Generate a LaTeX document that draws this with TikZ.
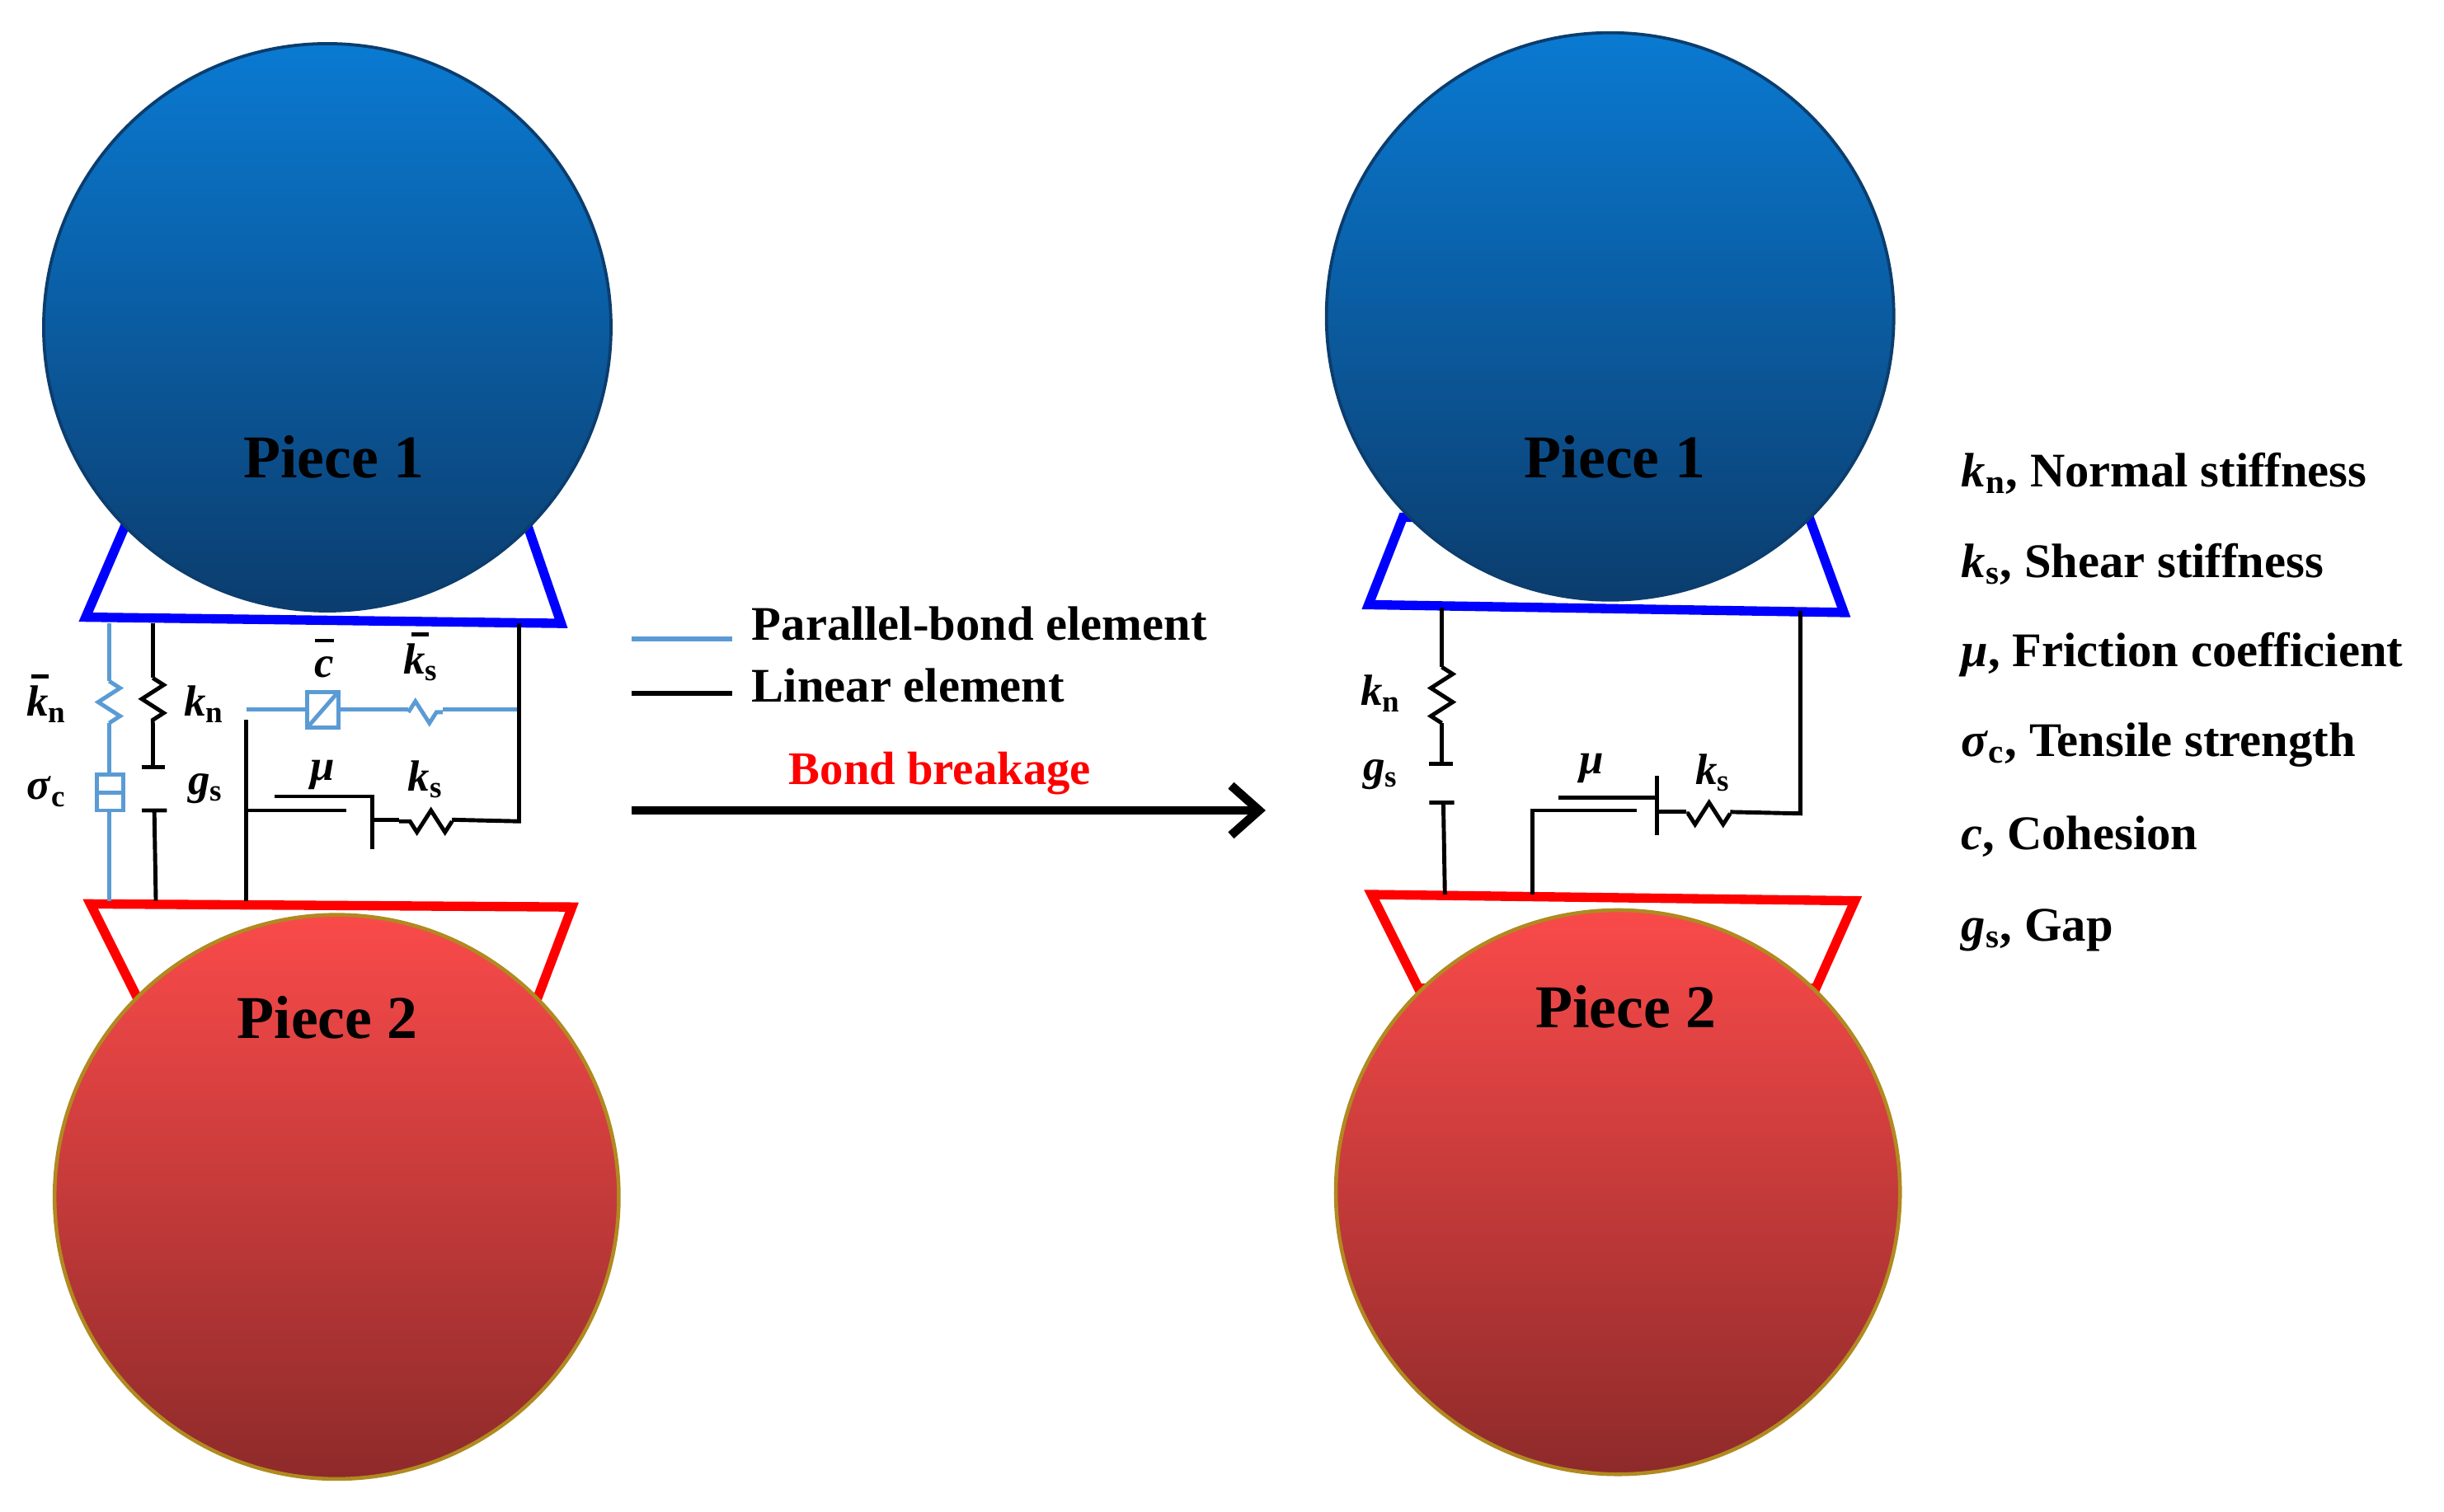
\documentclass[tikz,border=0pt]{standalone}
\usepackage{fontspec}
\setmainfont{Liberation Serif}
\usetikzlibrary{decorations.pathmorphing,arrows.meta}
\definecolor{pbl}{HTML}{5B9BD5}
\definecolor{bup}{HTML}{0A7AD2}
\definecolor{bdn}{HTML}{0B3D6E}
\definecolor{rup}{HTML}{FA4A4A}
\definecolor{rdn}{HTML}{8E2A2A}
\definecolor{rim}{HTML}{B08A20}
\tikzset{
 blueball/.style={draw=bdn,line width=1pt,top color=bup,bottom color=bdn},
 redball/.style={draw=rim,line width=1.2pt,top color=rup,bottom color=rdn},
 btrap/.style={draw=blue,line width=3pt,fill=white,line join=miter},
 rtrap/.style={draw=red,line width=3pt,fill=white,line join=miter},
 ln/.style={line width=1.3pt,black},
 pb/.style={line width=1.3pt,pbl},
 spr/.style={decorate,decoration={zigzag,amplitude=3.5pt,segment length=9pt,pre length=0pt,post length=0pt}},
 lab/.style={font=\bfseries\fontsize{14}{16}\selectfont,inner sep=0pt},
 piece/.style={font=\bfseries\fontsize{19.5}{22}\selectfont},
 leg/.style={font=\bfseries\fontsize{15.5}{18}\selectfont,anchor=west,inner sep=0pt}
}
\newcommand{\kk}[1]{\textit{k}\textsubscript{#1}}
\begin{document}
\begin{tikzpicture}[x=0.5pt,y=0.5pt]
\useasboundingbox (0,0) rectangle (1568,-970);
% ---------- left ----------
\draw[btrap] (80,-338) -- (338,-336) -- (360,-400) -- (55,-396) -- cycle;
\draw[blueball] (210,-210) circle (182);
\node[piece] (p1l) at (214,-293) {Piece 1};
\draw[rtrap] (58,-580) -- (367,-582) -- (345,-640) -- (88,-640) -- cycle;
\draw[redball] (216,-768) circle (181);
\node[piece] (p2l) at (210,-653) {Piece 2};
% parallel-bond normal
\draw[pb] (70,-400) -- (70,-437);
\draw[pb,spr] (70,-437) -- (70,-464);
\draw[pb] (70,-464) -- (70,-497);
\draw[pb,fill=white] (62,-497) rectangle (79,-520);
\draw[pb] (62,-508.5) -- (79,-508.5);
\draw[pb] (70,-520) -- (70,-578);
\node[lab] at (30,-452) {\kk{n}};
\draw[line width=1.2pt] (20,-434) -- (31,-434);
\node[lab] at (30,-508) {\textit{σ}\textsubscript{c}};
% linear normal
\draw[ln] (98,-400) -- (98,-435);
\draw[ln,spr] (98,-435) -- (98,-464);
\draw[ln] (98,-464) -- (98,-492);
\draw[ln] (91,-492) -- (106,-492);
\draw[ln] (91,-520) -- (107,-520) (99,-520) -- (100,-578);
\node[lab] at (131,-452) {\kk{n}};
\node[lab] at (132,-506) {\textit{g}\textsubscript{s}};
% shear
\draw[ln] (158,-462) -- (158,-578);
\draw[pb] (158,-455) -- (197,-455);
\draw[pb,fill=white] (197,-444) rectangle (217,-467);
\draw[pb] (197,-467) -- (217,-444);
\draw[pb] (217,-455) -- (262,-455);
\draw[pb,spr] (262,-457) -- (284,-457);
\draw[pb] (284,-455) -- (333,-455);
\draw[ln] (333,-400) -- (333,-527) -- (290,-526);
\draw[ln,spr] (290,-527) -- (256,-527);
\draw[ln] (256,-526) -- (240,-526);
\draw[ln] (239,-510) -- (239,-545);
\draw[ln] (176,-511) -- (239,-511);
\draw[ln] (158,-520) -- (222,-520);
\node[lab] at (208,-428) {\textit{c}};
\draw[line width=1.2pt] (202,-411) -- (214,-411);
\node[lab] at (270,-425) {\kk{s}};
\draw[line width=1.2pt] (264,-407) -- (275,-407);
\node[lab] at (207,-497) {\textit{μ}};
\node[lab] at (273,-500) {\kk{s}};
% legend / arrow
\draw[pb,line width=1.6pt] (405,-410) -- (470,-410);
\node[leg] (l1) at (482,-400) {Parallel-bond element};
\draw[ln,line width=1.6pt] (405,-445) -- (470,-445);
\node[leg] (l2) at (482,-440) {Linear element};
\node[font=\bfseries\fontsize{15}{18}\selectfont,text=red] (bb) at (603,-496) {Bond breakage};
\coordinate (a1) at (405,-520);
\coordinate (a2) at (812,-520);
\draw[line width=2.8pt,-{Straight Barb[length=9pt,width=16pt]}] (a1) -- (a2);
% ---------- right ----------
\draw[btrap] (900,-332) -- (1160,-330) -- (1183,-393) -- (878,-388) -- cycle;
\draw[blueball] (1033,-203) circle (182);
\node[piece] (p1r) at (1036,-293) {Piece 1};
\draw[rtrap] (880,-574) -- (1190,-578) -- (1165,-634) -- (910,-634) -- cycle;
\draw[redball] (1038,-765) circle (181);
\node[piece] (p2r) at (1043,-646) {Piece 2};
\draw[ln] (925,-390) -- (925,-428);
\draw[ln,spr] (925,-428) -- (925,-464);
\draw[ln] (925,-464) -- (925,-490);
\draw[ln] (917,-490) -- (932,-490);
\draw[ln] (917,-515) -- (933,-515) (926,-515) -- (927,-574);
\node[lab] at (886,-445) {\kk{n}};
\node[lab] at (886,-497) {\textit{g}\textsubscript{s}};
\draw[ln] (1155,-392) -- (1155,-522) -- (1110,-521);
\draw[ln,spr] (1110,-522) -- (1082,-522);
\draw[ln] (1082,-521) -- (1064,-521);
\draw[ln] (1063,-498) -- (1063,-536);
\draw[ln] (1000,-512) -- (1063,-512);
\draw[ln] (983,-574) -- (983,-520) -- (1050,-520);
\node[lab] at (1021,-493) {\textit{μ}};
\node[lab] at (1099,-496) {\kk{s}};
% legend right
\node[leg] (t1) at (1258,-304) {\kk{n}, Normal stiffness};
\node[leg] (t2) at (1258,-362) {\kk{s}, Shear stiffness};
\node[leg] (t3) at (1258,-420) {\textit{μ}, Friction coefficient};
\node[leg] (t4) at (1258,-478) {\textit{σ}\textsubscript{c}, Tensile strength};
\node[leg] (t5) at (1258,-537) {\textit{c}, Cohesion};
\node[leg] (t6) at (1258,-597) {\textit{g}\textsubscript{s}, Gap};
\end{tikzpicture}
\end{document}
